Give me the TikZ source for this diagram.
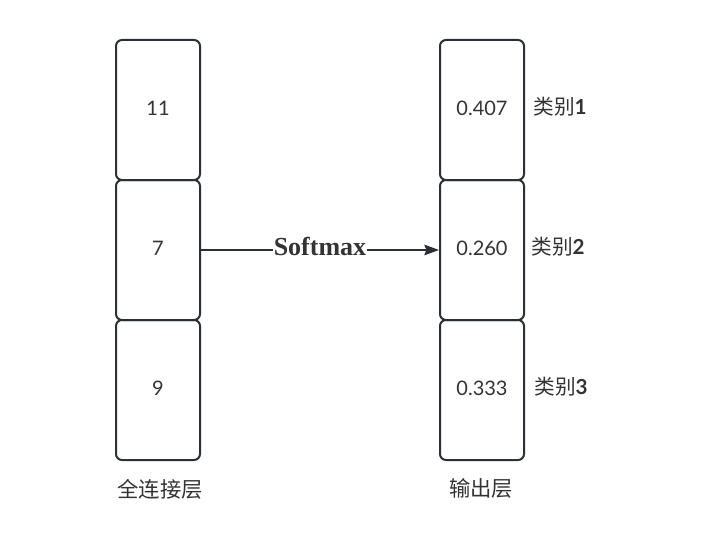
\documentclass[tikz,border=0pt]{standalone}
\usepackage{fontspec}
\setmainfont{Lato}
\newfontfamily\cjk{Noto Sans CJK SC}
\newfontfamily\serifb{Liberation Serif}
\usetikzlibrary{arrows.meta}
\definecolor{ln}{HTML}{2B2F36}
\definecolor{tx}{HTML}{333333}
\begin{document}
\begin{tikzpicture}[x=0.75pt,y=-0.75pt,
  cell/.style={draw=ln,line width=1.5pt,rounded corners=4.5pt,minimum width=63pt,minimum height=105pt,inner sep=0pt,text=tx,font=\fontsize{15}{17}\selectfont},
  num/.style={text=tx,inner sep=0pt,font=\fontsize{15}{17}\selectfont},
  lbl/.style={text=tx,inner sep=0pt,font=\fontsize{15.5}{18}\selectfont},
  conn/.style={draw=ln,line width=0.9pt,-{Stealth[length=11pt,width=8pt,inset=1.5pt]}}]
\useasboundingbox (0,0) rectangle (721,560);
\node[cell] (a1) at (158,110) {};
\node[cell] (a2) at (158,250) {};
\node[cell] (a3) at (158,390) {};
\node[cell] (b1) at (482,110) {};
\node[cell] (b2) at (482,250) {};
\node[cell] (b3) at (482,390) {};
\node[num] (t1) at (158,108) {11};
\node[num] (t2) at (158,248) {7};
\node[num] (t3) at (158,388) {9};
\node[num] (u1) at (482,108) {0.407};
\node[num] (u2) at (482,248) {0.260};
\node[num] (u3) at (482,388) {0.333};
\node[lbl] (c1) at (560,107) {{\cjk 类别}\textbf{1}};
\node[lbl] (c2) at (558,247) {{\cjk 类别}\textbf{2}};
\node[lbl] (c3) at (561,387) {{\cjk 类别}\textbf{3}};
\node[lbl,font=\cjk\fontsize{16}{18}\selectfont] (la) at (160,489) {全连接层};
\node[lbl,font=\cjk\fontsize{16}{18}\selectfont] (lb) at (481,488) {输出层};
\draw[conn] (a2.east) -- (b2.west) node[midway,fill=white,inner sep=0.5pt,text=tx,font=\serifb\bfseries\fontsize{19.5}{22}\selectfont,yshift=2.5pt] (sm) {Softmax};
\end{tikzpicture}
\end{document}
